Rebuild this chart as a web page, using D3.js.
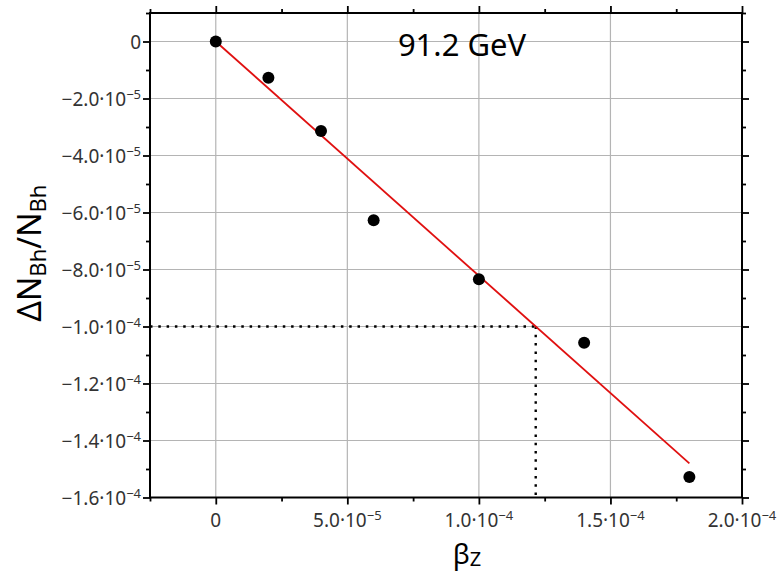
<!DOCTYPE html>
<html>
<head>
<meta charset="utf-8">
<script src="https://cdn.jsdelivr.net/npm/d3@7"></script>
<style>
  html, body { margin: 0; padding: 0; background: #fff; }
  svg { display: block; font-family: "Noto Sans", "Open Sans", sans-serif; }
</style>
</head>
<body>
<svg id="chart" width="782" height="574"></svg>
<script>
// ---- data ----
const betaZ  = [0, 2e-5, 4e-5, 6e-5, 1e-4, 1.4e-4, 1.8e-4];
const deltaN = [0, -1.27e-5, -3.14e-5, -6.27e-5, -8.34e-5, -1.057e-4, -1.528e-4];
const fitX = [0, 1.8e-4];
const fitY = [0, -1.480e-4];
const refX = 1.216e-4;
const refY = -1.0e-4;
const xTicks = [0, 5e-5, 1e-4, 1.5e-4, 2e-4];
const xTickMant = ["0", "5.0", "1.0", "1.5", "2.0"];
const xTickExp  = ["", "−5", "−4", "−4", "−4"];
const xMinor = [-2.5e-5, 2.5e-5, 7.5e-5, 1.25e-4, 1.75e-4];
const yTicks = [0, -2e-5, -4e-5, -6e-5, -8e-5, -1e-4, -1.2e-4, -1.4e-4, -1.6e-4];
const yTickMant = ["0", "−2.0", "−4.0", "−6.0", "−8.0", "−1.0", "−1.2", "−1.4", "−1.6"];
const yTickExp  = ["", "−5", "−5", "−5", "−5", "−4", "−4", "−4", "−4"];
const yMinor = [1e-5, -1e-5, -3e-5, -5e-5, -7e-5, -9e-5, -1.1e-4, -1.3e-4, -1.5e-4];
const titleText = "91.2 GeV";

// ---- layout ----
const L = 150, R = 742, T = 13, B = 497.5;
const x = d3.scaleLinear().domain([-2.5e-5, 2e-4]).range([L, R]);
const y = d3.scaleLinear().domain([1e-5, -1.6e-4]).range([T, B]);

const svg = d3.select("#chart");

// grid
svg.append("g").selectAll("line").data(xTicks).join("line")
  .attr("x1", d => x(d)).attr("x2", d => x(d)).attr("y1", T).attr("y2", B)
  .attr("stroke", "#b4b4b4").attr("stroke-width", 1.2);
svg.append("g").selectAll("line").data(yTicks).join("line")
  .attr("x1", L).attr("x2", R).attr("y1", d => y(d)).attr("y2", d => y(d))
  .attr("stroke", "#b4b4b4").attr("stroke-width", 1.2);

// dotted reference lines
svg.append("line").attr("x1", L).attr("x2", x(refX)).attr("y1", y(refY)).attr("y2", y(refY))
  .attr("stroke", "#000").attr("stroke-width", 2.4).attr("stroke-dasharray", "2.5,5.8");
svg.append("line").attr("x1", x(refX)).attr("x2", x(refX)).attr("y1", y(refY)).attr("y2", B)
  .attr("stroke", "#000").attr("stroke-width", 2.4).attr("stroke-dasharray", "2.5,5.8");

// fit line
svg.append("line")
  .attr("x1", x(fitX[0])).attr("y1", y(fitY[0]))
  .attr("x2", x(fitX[1])).attr("y2", y(fitY[1]))
  .attr("stroke", "#e01010").attr("stroke-width", 1.8);

// points
svg.append("g").selectAll("circle").data(betaZ).join("circle")
  .attr("cx", d => x(d)).attr("cy", (d, i) => y(deltaN[i])).attr("r", 6)
  .attr("fill", "#000");

// axes (ticks outward on all four sides)
function styleAxis(g) {
  g.select(".domain").remove();
  g.selectAll(".tick line").attr("stroke", "#000").attr("stroke-width", 1.8);
  g.selectAll(".tick text").remove();
}
svg.append("g").attr("transform", `translate(0,${B})`)
  .call(d3.axisBottom(x).tickValues(xTicks).tickSize(7)).call(styleAxis);
svg.append("g").attr("transform", `translate(0,${B})`)
  .call(d3.axisBottom(x).tickValues(xMinor).tickSize(4)).call(styleAxis);
svg.append("g").attr("transform", `translate(0,${T})`)
  .call(d3.axisTop(x).tickValues(xTicks).tickSize(7)).call(styleAxis);
svg.append("g").attr("transform", `translate(0,${T})`)
  .call(d3.axisTop(x).tickValues(xMinor).tickSize(4)).call(styleAxis);
svg.append("g").attr("transform", `translate(${L},0)`)
  .call(d3.axisLeft(y).tickValues(yTicks).tickSize(7)).call(styleAxis);
svg.append("g").attr("transform", `translate(${L},0)`)
  .call(d3.axisLeft(y).tickValues(yMinor).tickSize(4)).call(styleAxis);
svg.append("g").attr("transform", `translate(${R},0)`)
  .call(d3.axisRight(y).tickValues(yTicks).tickSize(7)).call(styleAxis);
svg.append("g").attr("transform", `translate(${R},0)`)
  .call(d3.axisRight(y).tickValues(yMinor).tickSize(4)).call(styleAxis);

// frame
svg.append("rect").attr("x", L).attr("y", T).attr("width", R - L).attr("height", B - T)
  .attr("fill", "none").attr("stroke", "#000").attr("stroke-width", 2);

// tick labels with superscript exponents
function addLabel(g, mant, exp) {
  g.append("tspan").text(mant);
  if (exp) {
    g.append("tspan").text("·10");
    g.append("tspan").text(exp).attr("font-size", 13).attr("dy", -7);
  }
}
const xl = svg.append("g").attr("fill", "#333").attr("font-size", 19);
xTicks.forEach((v, i) => {
  const t = xl.append("text").attr("x", x(v)).attr("y", 527).attr("text-anchor", "middle");
  addLabel(t, xTickMant[i], xTickExp[i]);
});
const yl = svg.append("g").attr("fill", "#333").attr("font-size", 19);
yTicks.forEach((v, i) => {
  const t = yl.append("text").attr("x", 141).attr("y", y(v) + 7).attr("text-anchor", "end");
  addLabel(t, yTickMant[i], yTickExp[i]);
});

// title inside plot
svg.append("text").attr("x", 462).attr("y", 56).attr("text-anchor", "middle")
  .attr("font-size", 31).attr("fill", "#000").text(titleText);

// x axis title
const xt = svg.append("text").attr("x", 467).attr("y", 564).attr("text-anchor", "middle")
  .attr("font-size", 28).attr("fill", "#000");
xt.append("tspan").text("β");
xt.append("tspan").text("Z").attr("font-size", 20).attr("dy", 2);

// y axis title
const yt = svg.append("text").attr("transform", "translate(41,253) rotate(-90)")
  .attr("text-anchor", "middle").attr("font-size", 32).attr("fill", "#000");
yt.append("tspan").text("ΔN");
yt.append("tspan").text("Bh").attr("font-size", 22).attr("dy", 5);
yt.append("tspan").text("/N").attr("dy", -5);
yt.append("tspan").text("Bh").attr("font-size", 22).attr("dy", 5);
</script>
</body>
</html>
